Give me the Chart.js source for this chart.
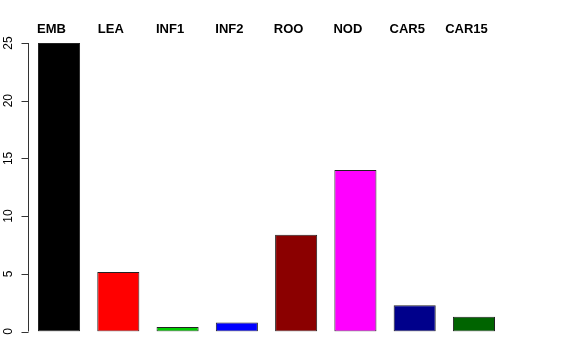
<!DOCTYPE html>
<html><head><meta charset="utf-8">
<script src="https://cdn.jsdelivr.net/npm/chart.js@4"></script>
<style>html,body{margin:0;padding:0;background:#fff}#wrap{width:576px;height:360px}</style>
</head><body><div id="wrap"><canvas id="c" width="576" height="360"></canvas></div>
<script>
const categories = ["EMB","LEA","INF1","INF2","ROO","NOD","CAR5","CAR15"];
const values = [25, 5.15, 0.38, 0.78, 8.38, 14.0, 2.28, 1.28];
const barColors = ["#000000","#FF0000","#00CD00","#0000FF","#8B0000","#FF00FF","#00008B","#006400"];
const yTicks = [0,5,10,15,20,25];

const axisPlugin = {
  id:'rAxes',
  afterDraw(chart){
    const ctx = chart.ctx, x = chart.scales.x, y = chart.scales.y;
    ctx.save();
    ctx.strokeStyle = '#333'; ctx.lineWidth = 1;
    const ax = 28.5;
    ctx.beginPath();
    ctx.moveTo(ax, y.getPixelForValue(yTicks[0])); ctx.lineTo(ax, y.getPixelForValue(yTicks[yTicks.length-1]));
    yTicks.forEach(t=>{ const p=Math.round(y.getPixelForValue(t))+0.5; ctx.moveTo(ax,p); ctx.lineTo(ax-7,p); });
    ctx.stroke();
    ctx.fillStyle='#000'; ctx.font='12px "Liberation Sans", Arial, sans-serif';
    ctx.textAlign='center'; ctx.textBaseline='middle';
    yTicks.forEach(t=>{ const p=y.getPixelForValue(t); ctx.save(); ctx.translate(9,p); ctx.rotate(-Math.PI/2); ctx.fillText(String(t),0,0); ctx.restore(); });
    ctx.font='bold 13px "Liberation Sans", Arial, sans-serif';
    ctx.textBaseline='alphabetic';
    categories.forEach((c,i)=>{ ctx.fillText(c, x.getPixelForValue(i)-7.5, 33); });
    ctx.restore();
  }
};

new Chart(document.getElementById('c'), {
  type:'bar',
  data:{ labels:categories, datasets:[{ data:values, backgroundColor:barColors, borderColor:'#222', borderWidth:1, borderSkipped:false, categoryPercentage:1, barPercentage:0.71 }]},
  options:{
    responsive:false, animation:false, devicePixelRatio:1,
    layout:{ padding:{ left:29.4, right:72.4, top:43, bottom:28.5 } },
    plugins:{ legend:{display:false}, tooltip:{enabled:false} },
    scales:{
      x:{ display:false },
      y:{ display:false, min:0, max:25 }
    }
  },
  plugins:[axisPlugin]
});
</script></body></html>
